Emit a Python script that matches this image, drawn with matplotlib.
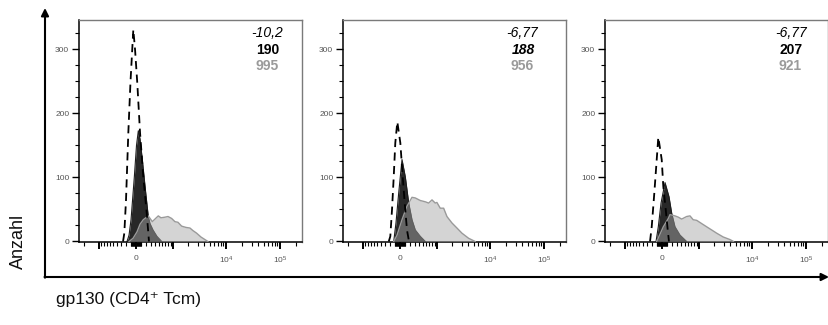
import numpy as np
import matplotlib
matplotlib.use("Agg")
import matplotlib.pyplot as plt

plt.rcParams['font.family'] = ['Liberation Sans', 'DejaVu Sans']
plt.rcParams['mathtext.fontset'] = 'custom'
plt.rcParams['mathtext.rm'] = 'Liberation Sans'
plt.rcParams['mathtext.it'] = 'Liberation Sans:italic'

# ---------------- data (fluorescence intensity vs. count) ----------------
iso1_x = [-253, -226, -191, -145, -103, -50, -18, 24, 75, 137, 205, 253]
iso1_y = [0, 13, 65, 170, 250, 331, 300, 247, 170, 101, 45, 0]
pos1_x = [-171, -131, -93, -31, 9, 43, 75, 118, 185, 238, 275, 343, 442, 578]
pos1_y = [0, 10, 34, 101, 150, 173, 160, 128, 76, 39, 28, 18, 8, 0]
lt1_x = [-131, -55, 18, 75, 137, 238, 327, 391, 478, 555, 686, 795, 945,
         1100, 1262, 1488, 1800, 2146, 2444, 2862, 3447, 4090, 4650]
lt1_y = [0, 5, 15, 27, 34, 40, 31, 35, 40, 37, 38, 39, 36,
         31, 30, 24, 22, 21, 17, 13, 7, 3, 0]

iso2_x = [-217, -185, -151, -118, -88, -50, 6, 50, 88, 131, 171]
iso2_y = [0, 8, 50, 101, 154, 187, 154, 101, 60, 18, 0]
pos2_x = [-118, -75, -24, 37, 99, 165, 232, 304, 425, 565]
pos2_y = [0, 29, 76, 128, 101, 60, 34, 18, 8, 0]
lt2_x = [-118, -55, 37, 131, 232, 304, 425, 565, 672, 795, 928, 1002,
         1169, 1362, 1578, 1962, 2444, 3028, 4037, 5350]
lt2_y = [0, 10, 34, 55, 69, 68, 64, 62, 60, 65, 60, 61,
         52, 52, 39, 29, 21, 13, 5, 0]

iso3_x = [-232, -197, -145, -99, -69, -5.6, 24, 69, 107, 131]
iso3_y = [0, 23, 76, 128, 163, 128, 86, 50, 18, 0]
pos3_x = [-112, -69, -18, 56, 131, 185, 253, 367, 545]
pos3_y = [0, 23, 60, 92, 70, 44, 23, 10, 0]
lt3_x = [-99, 24, 118, 151, 253, 327, 409, 545, 651, 763, 905, 1137,
         1423, 1779, 2210, 2940, 3920, 4570]
lt3_y = [0, 23, 36, 42, 40, 38, 35, 39, 40, 34, 33, 28,
         23, 18, 13, 7, 3, 0]

stat_top = ["-10,2", "-6,77", "-6,77"]
stat_mid = ["190", "188", "207"]
stat_bot = ["995", "956", "921"]
mid_italic = [False, True, False]

panels = [(iso1_x, iso1_y, pos1_x, pos1_y, lt1_x, lt1_y),
          (iso2_x, iso2_y, pos2_x, pos2_y, lt2_x, lt2_y),
          (iso3_x, iso3_y, pos3_x, pos3_y, lt3_x, lt3_y)]

x_major = [-1000, 0, 1000, 10000, 100000]
x_major_labels = ['', '0', '', '$10^4$', '$10^5$']
y_major = [0, 100, 200, 300]

# ---------------- scale ----------------
C = 435.0
def fwd(x):
    return np.arcsinh(np.asarray(x, dtype=float) / C)
def inv(u):
    return C * np.sinh(np.asarray(u, dtype=float))

x_minor = ([-2000] + list(range(-900, -99, 100)) + list(range(-90, 0, 10)) +
           list(range(10, 100, 10)) + list(range(100, 1000, 100)) +
           list(range(2000, 10000, 1000)) + list(range(20000, 100000, 10000)) +
           [200000])
y_minor = [v for v in range(25, 350, 25) if v % 100 != 0]

fig = plt.figure(figsize=(8.29, 3.25), dpi=100)

# outer arrows
bg = fig.add_axes([0, 0, 1, 1], zorder=-1)
bg.set_xlim(0, 829)
bg.set_ylim(325, 0)
bg.axis('off')
ap = dict(arrowstyle='-|>', color='black', lw=1.5, mutation_scale=11,
          shrinkA=0, shrinkB=0)
bg.annotate('', xy=(829, 277), xytext=(44.5, 277), arrowprops=ap)
bg.annotate('', xy=(45, 8), xytext=(45, 277.7), arrowprops=ap)

fig.text(0.0217, 0.258, 'Anzahl', rotation=90, ha='center', va='center',
         fontsize=13, color='#111111')
fig.text(0.068, 0.077, 'gp130 (CD4\u207a Tcm)', ha='left', va='center',
         fontsize=12.5, color='#111111',
         family=['Liberation Sans', 'DejaVu Sans'])

lefts = [79, 343, 605]
txt_x = [(0.911, 0.897, 0.893), (0.871, 0.857, 0.853), (0.906, 0.884, 0.879)]
W, H = 829.0, 325.0

for i, (ix, iy, px, py, lx, ly) in enumerate(panels):
    ax = fig.add_axes([lefts[i] / W, 1 - 242 / H, 223.5 / W, 222 / H])
    ax.set_xscale('function', functions=(fwd, inv))
    ax.set_xlim(-2450, 262144)
    ax.set_ylim(-0.8, 346)

    ax.fill_between(px, py, 0, color='#282828', lw=0, zorder=2)
    ax.plot(px, py, color='#1e1e1e', lw=0.8, zorder=2.1)
    ax.fill_between(lx, ly, 0, color='#a6a6a6', alpha=0.48, lw=0, zorder=3)
    ax.plot(lx, ly, color='#9a9a9a', lw=1.0, zorder=3.1)
    ax.plot(ix, iy, color='black', lw=1.3, ls=(0, (4.5, 3)), zorder=4)

    ax.set_xticks(x_major)
    ax.set_xticklabels(x_major_labels)
    ax.set_xticks(x_minor, minor=True)
    ax.set_yticks(y_major)
    ax.set_yticks(y_minor, minor=True)
    ax.tick_params(axis='both', which='major', direction='out', length=5,
                   width=1.0, labelsize=6, labelcolor='#555555', color='black')
    ax.tick_params(axis='both', which='minor', direction='out', length=3,
                   width=0.8, color='black')
    ax.tick_params(axis='x', which='major', pad=4, width=1.4)
    ax.tick_params(axis='y', which='major', pad=2)

    for s in ['left', 'bottom']:
        ax.spines[s].set_color('black')
        ax.spines[s].set_linewidth(1.1)
    for s in ['top', 'right']:
        ax.spines[s].set_color('#7a7a7a')
        ax.spines[s].set_linewidth(1.0)

    tx = txt_x[i]
    ax.text(tx[0], 0.941, stat_top[i], transform=ax.transAxes, ha='right',
            va='center', fontsize=10, style='italic', color='black')
    ax.text(tx[1], 0.865, stat_mid[i], transform=ax.transAxes, ha='right',
            va='center', fontsize=10, weight='bold',
            style='italic' if mid_italic[i] else 'normal', color='black')
    ax.text(tx[2], 0.793, stat_bot[i], transform=ax.transAxes, ha='right',
            va='center', fontsize=10, weight='bold', color='#9a9a9a')

fig.savefig('out.png', dpi=100)
